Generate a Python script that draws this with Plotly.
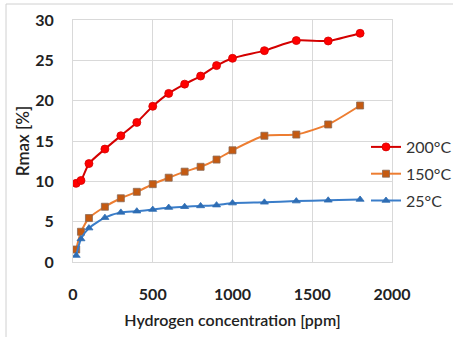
import plotly.graph_objects as go

conc = [20, 50, 100, 200, 300, 400, 500, 600, 700, 800, 900, 1000, 1200, 1400, 1600, 1800]
r200 = [9.75, 10.1, 12.2, 14.0, 15.65, 17.3, 19.3, 20.9, 22.05, 23.05, 24.35, 25.25, 26.2, 27.45, 27.4, 28.35]
r150 = [1.55, 3.75, 5.45, 6.85, 7.9, 8.7, 9.65, 10.45, 11.2, 11.8, 12.7, 13.85, 15.65, 15.8, 17.05, 19.4]
r25 = [0.8, 2.85, 4.2, 5.5, 6.15, 6.3, 6.5, 6.75, 6.85, 6.95, 7.05, 7.3, 7.4, 7.55, 7.65, 7.75]

series = [
    ("200°C", r200, "#D40000", "#FF0000", "circle", "#D40000", 8),
    ("150°C", r150, "#ED7D31", "#C55A11", "square", "#8C6A55", 7),
    ("25°C", r25, "#3A7DC9", "#2E6DB4", "triangle-up", "#2E6DB4", 7),
]

FONT = "Lato"
fig = go.Figure()
for name, ys, lc, mc, sym, mlc, ms in series:
    fig.add_trace(go.Scatter(
        x=conc, y=ys, name=name, legendgroup=name, mode="lines+markers",
        line=dict(color=lc, width=2, shape="spline", smoothing=0.6),
        marker=dict(color=mc, symbol=sym, size=ms, line=dict(color=mlc, width=0.8)),
    ))

W, H = 453, 337
ml, mr, mt, mb = 73, 61, 20, 75
pw, ph = W - ml - mr, H - mt - mb
def px_x(p):
    return (p - ml) / pw
def px_y(p):
    return (H - mb - p) / ph

fig.update_layout(
    width=W, height=H,
    margin=dict(l=ml, r=mr, t=mt, b=mb, autoexpand=False),
    paper_bgcolor="white", plot_bgcolor="white",
    font=dict(family=FONT, color="#222222"),
    showlegend=True,
    legend=dict(
        x=px_x(366), y=px_y(174),
        xanchor="left", yanchor="middle",
        bgcolor="rgba(0,0,0,0)", font=dict(family=FONT, size=16, color="#333333"),
        tracegroupgap=3,
    ),
    xaxis=dict(
        range=[0, 2000], tickvals=[0, 500, 1000, 1500, 2000],
        showgrid=True, gridcolor="#D9D9D9", gridwidth=1,
        showline=True, linecolor="#D9D9D9", linewidth=1, mirror=True,
        zeroline=False, ticks="", ticklabelstandoff=18,
        tickfont=dict(family=FONT, size=16, weight=700, color="#222222"),
        title=dict(text="Hydrogen concentration [ppm]", standoff=12,
                   font=dict(family=FONT, size=16, weight=600, color="#222222")),
    ),
    yaxis=dict(
        range=[0, 30], tickvals=[0, 5, 10, 15, 20, 25, 30],
        showgrid=True, gridcolor="#D9D9D9", gridwidth=1,
        showline=True, linecolor="#D9D9D9", linewidth=1, mirror=True,
        zeroline=False, ticks="", ticklabelstandoff=15,
        tickfont=dict(family=FONT, size=16, weight=700, color="#222222"),
        title=dict(text="Rmax [%]", standoff=1,
                   font=dict(family=FONT, size=17, weight=600, color="#222222")),
    ),
)

# outer chart frame (light gray, cropped at right and bottom)
fig.add_shape(type="rect", xref="paper", yref="paper",
              x0=px_x(6), x1=px_x(470), y0=px_y(4), y1=px_y(350),
              line=dict(color="#D0D0D0", width=1), fillcolor="rgba(0,0,0,0)", layer="below")

fig.write_html("out.html")
